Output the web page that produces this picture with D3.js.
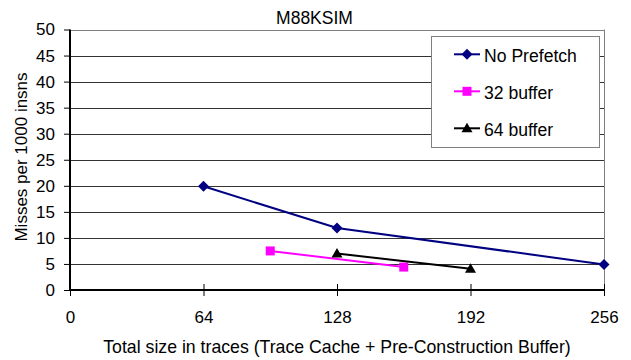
<!DOCTYPE html>
<html>
<head>
<meta charset="utf-8">
<script src="https://cdn.jsdelivr.net/npm/d3@7"></script>
<style>
  body { margin: 0; background: #fff; }
  svg { display: block; font-family: "Liberation Sans", Arial, sans-serif; }
</style>
</head>
<body>
<svg id="chart" width="631" height="360"></svg>
<script>
// chart data
const seriesNames = ["No Prefetch", "32 buffer", "64 buffer"];
const noPrefetchX = [64, 128, 256];
const noPrefetchY = [19.9, 11.9, 4.9];
const buf32X = [96, 160];
const buf32Y = [7.5, 4.4];
const buf64X = [128, 192];
const buf64Y = [7.0, 4.1];
const xTicks = [0, 64, 128, 192, 256];
const yTicks = [0, 5, 10, 15, 20, 25, 30, 35, 40, 45, 50];

const series = [
  { name: seriesNames[0], xs: noPrefetchX, ys: noPrefetchY, color: "#000080", marker: "diamond" },
  { name: seriesNames[1], xs: buf32X, ys: buf32Y, color: "#ff00ff", marker: "square" },
  { name: seriesNames[2], xs: buf64X, ys: buf64Y, color: "#000000", marker: "triangle" }
];

const margin = { top: 29.5, right: 27, bottom: 70, left: 70 };
const width = 631, height = 360;

const svg = d3.select("#chart");

const x = d3.scaleLinear().domain([0, 256]).range([margin.left, width - margin.right]);
const y = d3.scaleLinear().domain([0, 50]).range([height - margin.bottom, margin.top]);

// gridlines
svg.append("g")
  .selectAll("line")
  .data(yTicks.filter(d => d > 0))
  .enter()
  .append("line")
  .attr("x1", x(0))
  .attr("x2", x(256))
  .attr("y1", d => Math.round(y(d)) + 0.5)
  .attr("y2", d => Math.round(y(d)) + 0.5)
  .attr("stroke", d => d === 50 ? "#808080" : "#333")
  .attr("stroke-width", 1);

// right border of plot area
svg.append("line")
  .attr("x1", Math.round(x(256)) + 0.5)
  .attr("x2", Math.round(x(256)) + 0.5)
  .attr("y1", y(50))
  .attr("y2", y(0))
  .attr("stroke", "#808080");

// y axis
const yAxis = d3.axisLeft(y).tickValues(yTicks).tickSize(6).tickPadding(9);
const gy = svg.append("g")
  .attr("transform", `translate(${x(0)},0)`)
  .call(yAxis);
gy.select(".domain").attr("stroke", "#000").attr("stroke-width", 2).attr("d", `M0,${y(50)}V${y(0) + 1}`);
gy.selectAll(".tick line").attr("stroke", "#000");
gy.selectAll(".tick text")
  .attr("font-size", 17)
  .attr("font-family", "Liberation Sans, Arial, sans-serif")
  .attr("fill", "#000");

// x axis
const xAxis = d3.axisBottom(x).tickValues(xTicks).tickSize(6).tickPadding(14.5);
const gx = svg.append("g")
  .attr("transform", `translate(0,${y(0)})`)
  .call(xAxis);
gx.select(".domain").attr("stroke", "#000").attr("stroke-width", 2).attr("d", `M${x(0)},0H${x(256)}`);
gx.selectAll(".tick line").attr("stroke", "#000").attr("y1", -6).attr("y2", 6);
gx.selectAll(".tick text")
  .attr("font-size", 17)
  .attr("font-family", "Liberation Sans, Arial, sans-serif")
  .attr("fill", "#000");

// series lines and markers
const line = d3.line().x(d => x(d[0])).y(d => y(d[1]));

function drawMarker(g, type, color, cx, cy) {
  if (type === "diamond") {
    g.append("path")
      .attr("d", `M${cx},${cy - 5.5}L${cx + 5.5},${cy}L${cx},${cy + 5.5}L${cx - 5.5},${cy}Z`)
      .attr("fill", color);
  } else if (type === "square") {
    g.append("rect")
      .attr("x", cx - 4.5).attr("y", cy - 4.5)
      .attr("width", 9).attr("height", 9)
      .attr("fill", color);
  } else {
    g.append("path")
      .attr("d", `M${cx},${cy - 5.5}L${cx + 5.5},${cy + 4}L${cx - 5.5},${cy + 4}Z`)
      .attr("fill", color);
  }
}

series.forEach(s => {
  const pts = s.xs.map((v, i) => [v, s.ys[i]]);
  const g = svg.append("g");
  g.append("path")
    .attr("d", line(pts))
    .attr("fill", "none")
    .attr("stroke", s.color)
    .attr("stroke-width", 2);
  pts.forEach(p => drawMarker(g, s.marker, s.color, x(p[0]), y(p[1])));
});

// title
svg.append("text")
  .attr("x", 314.5)
  .attr("y", 24)
  .attr("text-anchor", "middle")
  .attr("font-size", 17.5)
  .text("M88KSIM");

// axis titles
svg.append("text")
  .attr("x", (x(0) + x(256)) / 2)
  .attr("y", 352.5)
  .attr("text-anchor", "middle")
  .attr("font-size", 17.7)
  .text("Total size in traces (Trace Cache + Pre-Construction Buffer)");

svg.append("text")
  .attr("transform", `translate(27,157) rotate(-90)`)
  .attr("text-anchor", "middle")
  .attr("font-size", 17)
  .text("Misses per 1000 insns");

// legend
const legend = svg.append("g").attr("transform", "translate(431,36)");
legend.append("rect")
  .attr("x", 0.5).attr("y", 0.5)
  .attr("width", 168).attr("height", 111)
  .attr("fill", "#fff")
  .attr("stroke", "#808080");

const legendY = d3.scalePoint().domain(seriesNames).range([18.3, 92.3]);
series.forEach(s => {
  const ly = legendY(s.name);
  legend.append("line")
    .attr("x1", 23).attr("x2", 49)
    .attr("y1", ly).attr("y2", ly)
    .attr("stroke", s.color)
    .attr("stroke-width", 2);
  drawMarker(legend, s.marker, s.color, 36, ly);
  legend.append("text")
    .attr("x", 53)
    .attr("y", ly + 7.5)
    .attr("font-size", 17.6)
    .text(s.name);
});
</script>
</body>
</html>
